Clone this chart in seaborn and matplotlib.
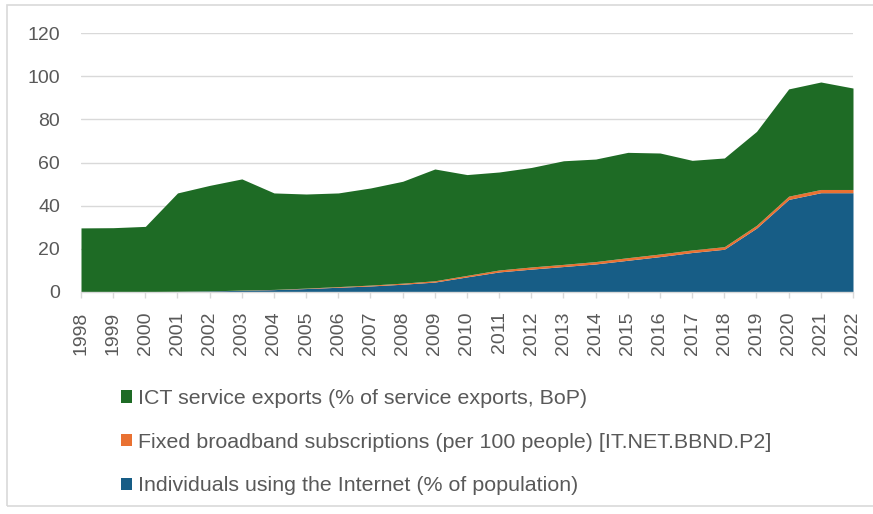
import matplotlib
matplotlib.use("Agg")
import matplotlib.pyplot as plt
from matplotlib.patches import Rectangle, Patch
import seaborn as sns

# Years covered
years = list(range(1998, 2023))

# Individuals using the Internet (% of population)
internet = [0.1, 0.1, 0.2, 0.3, 0.5, 0.8, 1.1, 1.6, 2.2, 2.8, 3.6, 4.6, 7.0,
            9.3, 10.6, 11.8, 13.0, 14.7, 16.4, 18.3, 19.8, 29.6, 42.9, 46.0, 46.0]

# Fixed broadband subscriptions (per 100 people)
broadband = [0.0, 0.0, 0.0, 0.0, 0.0, 0.1, 0.1, 0.2, 0.3, 0.4, 0.5, 0.6, 0.7,
             0.9, 1.0, 1.0, 1.1, 1.2, 1.2, 1.2, 1.2, 1.3, 1.5, 1.5, 1.5]

# ICT service exports (% of service exports, BoP)
ict = [29.6, 29.7, 30.2, 45.6, 48.9, 51.5, 44.7, 43.6, 43.4, 45.0, 47.2, 51.8,
       46.7, 45.4, 46.1, 48.0, 47.5, 48.8, 46.8, 41.5, 41.1, 43.5, 49.7, 49.8, 47.0]

labels = [
    "Individuals using the Internet (% of population)",
    "Fixed broadband subscriptions (per 100 people) [IT.NET.BBND.P2]",
    "ICT service exports (% of service exports, BoP)",
]
colors = ["#175d86", "#e97132", "#1e6b25"]
y_ticks = [0, 20, 40, 60, 80, 100, 120]

sns.set_theme(style="white")
plt.rcParams["font.family"] = ["Liberation Sans", "DejaVu Sans"]

fig = plt.figure(figsize=(8.73, 5.14), dpi=100)
ax = fig.add_axes([81 / 873, 1 - 292 / 514, (853 - 81) / 873, (292 - 33) / 514])

ax.stackplot(years, internet, broadband, ict, colors=colors,
             labels=labels, linewidth=0, zorder=2)

ax.set_xlim(years[0], years[-1])
ax.set_ylim(0, 120)
ax.set_yticks(y_ticks)
ax.set_xticks(years)
ax.set_xticklabels([str(y) for y in years], rotation=90)

ax.yaxis.grid(True, color="#d9d9d9", linewidth=1.0, zorder=0)
ax.set_axisbelow(True)
for side in ["top", "right", "left"]:
    ax.spines[side].set_visible(False)
ax.spines["bottom"].set_color("#d9d9d9")
ax.spines["bottom"].set_linewidth(1.0)

ax.tick_params(axis="y", length=0, pad=15, labelsize=14, labelcolor="#595959")
ax.tick_params(axis="x", bottom=True, length=4, width=1, color="#d9d9d9",
               direction="out", pad=10, labelsize=14, labelcolor="#595959")

# Legend below the plot, listed top layer first
handles = [Patch(facecolor=c, edgecolor="none") for c in colors][::-1]
fig.legend(handles, labels[::-1], loc="upper left",
           bbox_to_anchor=(121 / 873, 1 - 389 / 514),
           frameon=False, borderpad=0, borderaxespad=0,
           handlelength=0.5, handleheight=0.5, handletextpad=0.3,
           labelspacing=1.15, labelcolor="#595959",
           prop={"family": ["Liberation Sans"], "size": 15.4})

# Light frame around the chart area
fig.patches.append(Rectangle((7 / 873, 1 - 506 / 514), 1.2, (506 - 5) / 514,
                             transform=fig.transFigure, fill=False,
                             edgecolor="#d9d9d9", linewidth=1.2))

fig.savefig("out.png", dpi=100)
